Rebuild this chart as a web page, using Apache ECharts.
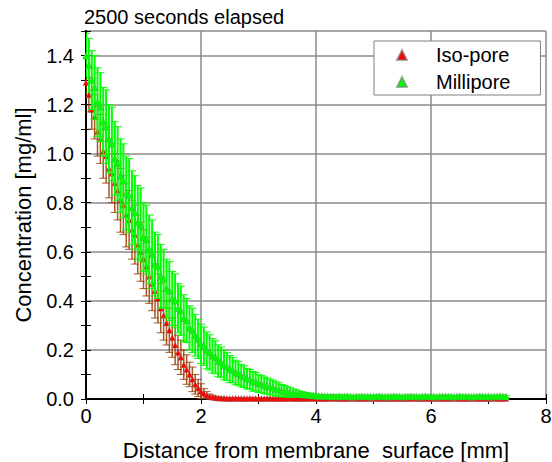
<!DOCTYPE html>
<html>
<head>
<meta charset="utf-8">
<script src="https://cdn.jsdelivr.net/npm/echarts@6/dist/echarts.min.js"></script>
<style>
  html, body { margin: 0; padding: 0; background: #fff; }
  #chart { width: 552px; height: 462px; }
</style>
</head>
<body>
<div id="chart"></div>
<script>
// distance samples every 0.05 mm, 0 .. 7.30
const xStep = 0.05;

// Iso-pore mean concentration [mg/ml]
const isoY = [
  1.29, 1.24, 1.18, 1.15, 1.09, 1.06, 1.01, 0.99, 0.94, 0.92,
  0.88, 0.85, 0.81, 0.79, 0.75, 0.73, 0.69, 0.67, 0.63, 0.60,
  0.57, 0.54, 0.50, 0.47, 0.44, 0.41, 0.37, 0.34, 0.31, 0.28,
  0.25, 0.22, 0.19, 0.17, 0.14, 0.12, 0.10, 0.08, 0.06, 0.045,
  0.032, 0.022, 0.015, 0.010, 0.007, 0.005, 0.004, 0.003, 0.003, 0.002,
  0.002, 0.002, 0.003, 0.002, 0.002, 0.002, 0.002, 0.003, 0.002, 0.002,
  0.002, 0.002, 0.002, 0.002, 0.003, 0.002, 0.002, 0.002, 0.002, 0.002,
  0.002, 0.003, 0.002, 0.002, 0.002, 0.002, 0.002, 0.002, 0.003, 0.002,
  0.002, 0.002, 0.002, 0.002, 0.002, 0.003, 0.002, 0.002, 0.002, 0.002,
  0.002, 0.002, 0.003, 0.002, 0.002, 0.002, 0.002, 0.002, 0.002, 0.002,
  0.003, 0.002, 0.002, 0.002, 0.002, 0.002, 0.002, 0.003, 0.002, 0.002,
  0.002, 0.002, 0.002, 0.002, 0.003, 0.002, 0.002, 0.002, 0.002, 0.002,
  0.002, 0.003, 0.002, 0.002, 0.002, 0.002, 0.002, 0.002, 0.003, 0.002,
  0.002, 0.002, 0.002, 0.002, 0.002, 0.003, 0.002, 0.002, 0.002, 0.002,
  0.002, 0.002, 0.003, 0.002, 0.002, 0.002, 0.002
];
// Iso-pore error (half height of bar)
const isoErr = [
  0.06, 0.07, 0.08, 0.09, 0.10, 0.10, 0.11, 0.11, 0.12, 0.12,
  0.12, 0.12, 0.13, 0.12, 0.13, 0.12, 0.12, 0.12, 0.12, 0.12,
  0.12, 0.12, 0.11, 0.11, 0.11, 0.10, 0.10, 0.10, 0.09, 0.09,
  0.08, 0.08, 0.07, 0.07, 0.06, 0.06, 0.05, 0.05, 0.04, 0.035,
  0.030, 0.020, 0.015, 0.010, 0.008, 0.006, 0.005, 0.004, 0.004, 0.003,
  0.003, 0.003, 0.003, 0.003, 0.002, 0.002, 0.002, 0.002, 0.002, 0.002,
  0.002, 0.002, 0.002, 0.002, 0.002, 0.002, 0.002, 0.002, 0.002, 0.002,
  0.002, 0.002, 0.002, 0.002, 0.002, 0.002, 0.002, 0.002, 0.002, 0.002,
  0.002, 0.002, 0.002, 0.002, 0.002, 0.002, 0.002, 0.002, 0.002, 0.002,
  0.002, 0.002, 0.002, 0.002, 0.002, 0.002, 0.002, 0.002, 0.002, 0.002,
  0.002, 0.002, 0.002, 0.002, 0.002, 0.002, 0.002, 0.002, 0.002, 0.002,
  0.002, 0.002, 0.002, 0.002, 0.002, 0.002, 0.002, 0.002, 0.002, 0.002,
  0.002, 0.002, 0.002, 0.002, 0.002, 0.002, 0.002, 0.002, 0.002, 0.002,
  0.002, 0.002, 0.002, 0.002, 0.002, 0.002, 0.002, 0.002, 0.002, 0.002,
  0.002, 0.002, 0.002, 0.002, 0.002, 0.002, 0.002
];

// Millipore mean concentration [mg/ml]
const milliY = [
  1.40, 1.36, 1.30, 1.27, 1.21, 1.19, 1.13, 1.11, 1.06, 1.04,
  0.98, 0.96, 0.91, 0.89, 0.84, 0.83, 0.78, 0.76, 0.72, 0.71,
  0.66, 0.65, 0.61, 0.59, 0.55, 0.54, 0.50, 0.49, 0.45, 0.44,
  0.41, 0.40, 0.37, 0.36, 0.33, 0.32, 0.29, 0.28, 0.26, 0.245,
  0.225, 0.215, 0.198, 0.190, 0.176, 0.170, 0.156, 0.150, 0.138, 0.132,
  0.122, 0.118, 0.108, 0.104, 0.095, 0.091, 0.083, 0.080, 0.072, 0.070,
  0.063, 0.061, 0.056, 0.053, 0.049, 0.046, 0.041, 0.039, 0.034, 0.032,
  0.029, 0.027, 0.024, 0.023, 0.020, 0.019, 0.017, 0.016, 0.015, 0.014,
  0.013, 0.012, 0.012, 0.011, 0.011, 0.011, 0.010, 0.010, 0.011, 0.010,
  0.010, 0.011, 0.010, 0.009, 0.010, 0.010, 0.011, 0.010, 0.010, 0.009,
  0.010, 0.010, 0.011, 0.010, 0.009, 0.010, 0.010, 0.011, 0.010, 0.010,
  0.009, 0.010, 0.010, 0.011, 0.010, 0.010, 0.009, 0.010, 0.011, 0.010,
  0.010, 0.010, 0.009, 0.010, 0.011, 0.010, 0.010, 0.010, 0.009, 0.010,
  0.011, 0.010, 0.010, 0.010, 0.009, 0.010, 0.010, 0.011, 0.010, 0.010,
  0.010, 0.009, 0.010, 0.010, 0.011, 0.010, 0.010
];
// Millipore error (half height of bar)
const milliErr = [
  0.09, 0.11, 0.12, 0.13, 0.14, 0.14, 0.14, 0.15, 0.14, 0.15,
  0.15, 0.15, 0.15, 0.15, 0.15, 0.15, 0.15, 0.15, 0.15, 0.15,
  0.14, 0.14, 0.14, 0.14, 0.13, 0.13, 0.13, 0.12, 0.12, 0.12,
  0.11, 0.11, 0.10, 0.10, 0.095, 0.09, 0.09, 0.09, 0.085, 0.08,
  0.080, 0.078, 0.075, 0.072, 0.070, 0.067, 0.065, 0.062, 0.060, 0.057,
  0.055, 0.052, 0.050, 0.048, 0.046, 0.044, 0.042, 0.040, 0.040, 0.038,
  0.036, 0.035, 0.034, 0.033, 0.032, 0.030, 0.029, 0.027, 0.025, 0.023,
  0.021, 0.019, 0.017, 0.015, 0.013, 0.011, 0.010, 0.009, 0.008, 0.007,
  0.006, 0.006, 0.006, 0.006, 0.006, 0.006, 0.006, 0.006, 0.006, 0.006,
  0.005, 0.005, 0.005, 0.005, 0.005, 0.005, 0.005, 0.005, 0.005, 0.005,
  0.005, 0.005, 0.005, 0.005, 0.005, 0.005, 0.005, 0.005, 0.005, 0.005,
  0.005, 0.005, 0.005, 0.005, 0.005, 0.005, 0.005, 0.005, 0.005, 0.005,
  0.005, 0.005, 0.005, 0.005, 0.005, 0.005, 0.005, 0.005, 0.005, 0.005,
  0.005, 0.005, 0.005, 0.005, 0.005, 0.005, 0.005, 0.005, 0.005, 0.005,
  0.005, 0.005, 0.005, 0.005, 0.005, 0.005, 0.005
];

const xTicks = [0, 2, 4, 6, 8];
const yTickLabels = ['0.0', '0.2', '0.4', '0.6', '0.8', '1.0', '1.2', '1.4'];
const seriesNames = ['Iso-pore', 'Millipore'];
const FONT = '"Liberation Sans", Arial, sans-serif';

function points(ys) {
  return ys.map((y, i) => [+(i * xStep).toFixed(2), y]);
}
function bars(ys, errs) {
  return ys.map((y, i) => [+(i * xStep).toFixed(2), y - errs[i], y + errs[i]]);
}

// vertical error bar with caps
function errorBar(color, lw) {
  return function (params, api) {
    const x = api.value(0);
    const lo = api.coord([x, api.value(1)]);
    const hi = api.coord([x, api.value(2)]);
    const w = 4;
    const st = { stroke: color, lineWidth: lw };
    return {
      type: 'group',
      children: [
        { type: 'line', shape: { x1: lo[0], y1: lo[1], x2: hi[0], y2: hi[1] }, style: st },
        { type: 'line', shape: { x1: hi[0] - w, y1: hi[1], x2: hi[0] + w, y2: hi[1] }, style: { stroke: color, lineWidth: 1 } },
        { type: 'line', shape: { x1: lo[0] - w, y1: lo[1], x2: lo[0] + w, y2: lo[1] }, style: { stroke: color, lineWidth: 1 } }
      ]
    };
  };
}

const chart = echarts.init(document.getElementById('chart'), null, { renderer: 'svg' });

const hiddenAxis = {
  axisLine: { show: true, lineStyle: { color: '#000', width: 2 } },
  axisTick: { show: true, inside: true, length: 5, lineStyle: { color: '#000' } },
  minorTick: { show: true, splitNumber: 2, length: 5, lineStyle: { color: '#000' } },
  axisLabel: { show: false },
  splitLine: { show: false }
};

chart.setOption({
  animation: false,
  backgroundColor: '#fff',
  title: {
    text: '2500 seconds elapsed',
    left: 84,
    top: 7,
    padding: 0,
    textStyle: { fontFamily: FONT, fontSize: 20, fontWeight: 'normal', color: '#000' }
  },
  legend: {
    data: seriesNames,
    orient: 'vertical',
    left: 374,
    top: 41,
    padding: [4, 30, 3, 22],
    itemGap: 7,
    itemWidth: 10,
    itemHeight: 10,
    icon: 'triangle',
    borderColor: '#808080',
    borderWidth: 1,
    backgroundColor: '#fff',
    textStyle: { fontFamily: FONT, fontSize: 20, color: '#000', lineHeight: 20, padding: [0, 0, 0, 24] }
  },
  grid: { left: 86, right: 6, top: 31, bottom: 63, outerBoundsMode: 'none' },
  xAxis: [
    {
      type: 'value',
      min: 0,
      max: 8,
      interval: 2,
      name: 'Distance from membrane  surface [mm]',
      nameLocation: 'middle',
      nameGap: 40,
      nameTextStyle: { fontFamily: FONT, fontSize: 22, color: '#000' },
      axisLine: { show: true, lineStyle: { color: '#000', width: 2 } },
      axisTick: { show: true, inside: true, length: 5, lineStyle: { color: '#000' } },
      minorTick: { show: true, splitNumber: 2, length: 5, lineStyle: { color: '#000' } },
      axisLabel: {
        fontFamily: FONT, fontSize: 20, color: '#000', margin: 7,
        formatter: v => (xTicks.indexOf(v) >= 0 ? String(v) : '')
      },
      splitLine: { show: true, lineStyle: { color: '#8a8a8a', width: 1.5 } }
    },
    Object.assign({ type: 'value', min: 0, max: 8, interval: 2, position: 'top' }, hiddenAxis)
  ],
  yAxis: [
    {
      type: 'value',
      min: 0,
      max: 1.5,
      interval: 0.2,
      name: 'Concentration [mg/ml]',
      nameLocation: 'middle',
      nameGap: 52,
      nameTextStyle: { fontFamily: FONT, fontSize: 22, color: '#000' },
      axisLine: { show: true, lineStyle: { color: '#000', width: 2 } },
      axisTick: { show: true, inside: true, length: 5, lineStyle: { color: '#000' } },
      minorTick: { show: true, splitNumber: 2, length: 5, lineStyle: { color: '#000' } },
      axisLabel: {
        fontFamily: FONT, fontSize: 20, color: '#000', margin: 12, showMaxLabel: false,
        formatter: v => yTickLabels[Math.round(v / 0.2)] || ''
      },
      splitLine: { show: true, lineStyle: { color: '#8a8a8a', width: 1.5 } }
    },
    Object.assign({ type: 'value', min: 0, max: 1.5, interval: 0.2, position: 'right' }, hiddenAxis)
  ],
  series: [
    {
      name: 'Iso-pore err',
      type: 'custom',
      clip: true,
      renderItem: errorBar('rgba(150,60,0,0.85)', 1.5),
      data: bars(isoY, isoErr),
      z: 2
    },
    {
      name: 'Iso-pore',
      type: 'scatter',
      symbol: 'triangle',
      symbolSize: 6,
      itemStyle: { color: '#ff0000', borderColor: 'rgba(120,120,120,0.6)', borderWidth: 0.5, opacity: 1 },
      data: points(isoY),
      z: 3
    },
    {
      name: 'Millipore err',
      type: 'custom',
      clip: true,
      renderItem: errorBar('#00ff00', 2),
      data: bars(milliY, milliErr),
      z: 4
    },
    {
      name: 'Millipore',
      type: 'scatter',
      symbol: 'triangle',
      symbolSize: 7,
      itemStyle: { color: '#00ff00', borderColor: 'rgba(120,120,120,0.6)', borderWidth: 0.5, opacity: 1 },
      data: points(milliY),
      z: 5
    }
  ]
});
</script>
</body>
</html>
